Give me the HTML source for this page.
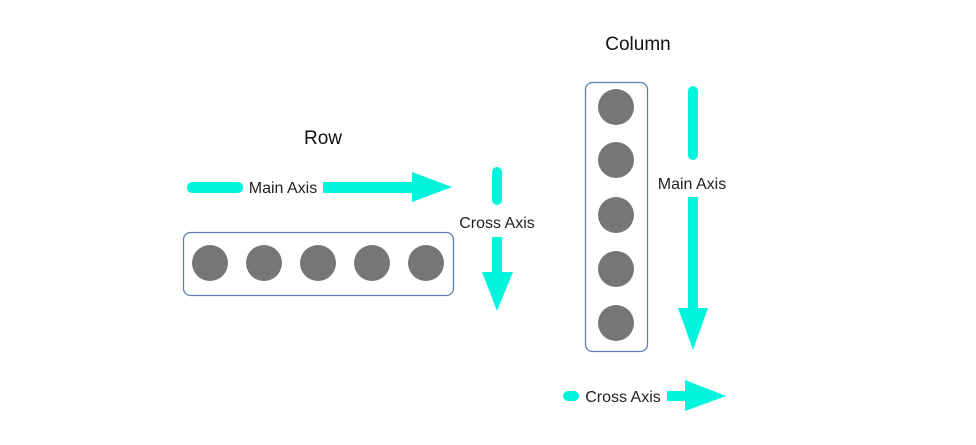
<!DOCTYPE html>
<html><head><meta charset="utf-8"><style>
html,body{margin:0;padding:0;background:#fff;}
svg{display:block;font-family:"Liberation Sans",sans-serif;}
</style></head><body>
<svg width="976" height="445" viewBox="0 0 976 445" xmlns="http://www.w3.org/2000/svg">
<g fill="#00f5dc" stroke="none">
<rect x="187" y="182" width="56" height="11" rx="5"/>
<rect x="323" y="182" width="92" height="11"/>
<polygon points="412,172 452,187 412,202"/>
<rect x="492" y="167" width="10" height="38" rx="5"/>
<rect x="492" y="237" width="10" height="38"/>
<polygon points="482,272 513,272 497,311"/>
<rect x="688" y="86" width="10" height="74" rx="5"/>
<rect x="688" y="197" width="10" height="114"/>
<polygon points="678,308 708,308 693,350"/>
<rect x="563" y="391" width="16" height="10" rx="5"/>
<rect x="667" y="391" width="20" height="10"/>
<polygon points="685,380 726,396 685,411"/>
</g>
<rect x="183.5" y="232.5" width="270" height="63" rx="7" fill="none" stroke="#5a80b4" stroke-width="1.3"/>
<rect x="585.5" y="82.5" width="62" height="269" rx="7" fill="none" stroke="#5a80b4" stroke-width="1.3"/>
<g fill="#767676">
<circle cx="210" cy="263" r="18"/><circle cx="264" cy="263" r="18"/><circle cx="318" cy="263" r="18"/><circle cx="372" cy="263" r="18"/><circle cx="426" cy="263" r="18"/>
<circle cx="616" cy="107" r="18"/><circle cx="616" cy="160" r="18"/><circle cx="616" cy="215" r="18"/><circle cx="616" cy="269" r="18"/><circle cx="616" cy="323" r="18"/>
</g>
<g fill="#222" font-size="16">
<text x="283" y="193" text-anchor="middle">Main Axis</text>
<text x="497" y="228" text-anchor="middle">Cross Axis</text>
<text x="692" y="189" text-anchor="middle">Main Axis</text>
<text x="623" y="402" text-anchor="middle">Cross Axis</text>
</g>
<g fill="#111" font-size="19">
<text x="323" y="144" text-anchor="middle">Row</text>
<text x="638" y="50" text-anchor="middle">Column</text>
</g>
</svg>
</body></html>
